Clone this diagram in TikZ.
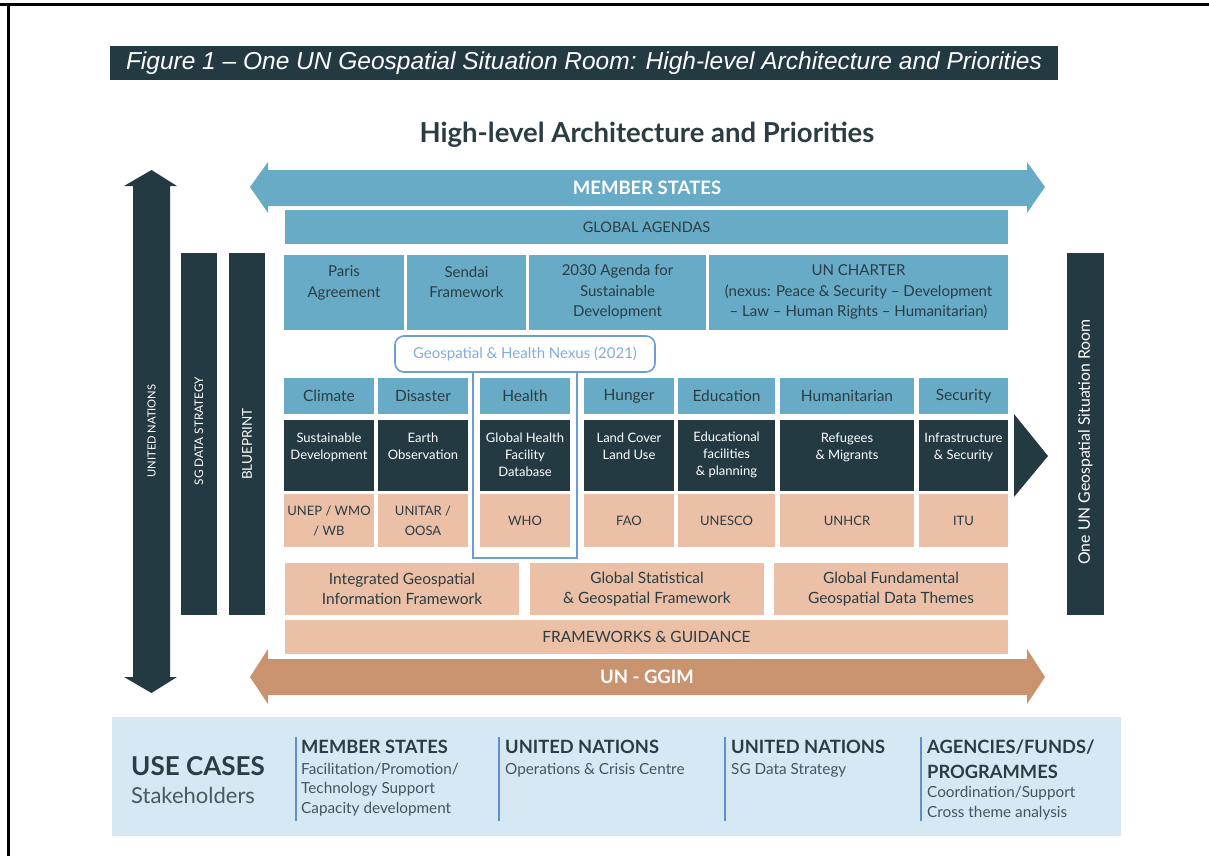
\documentclass[tikz,border=0pt]{standalone}
\usepackage{fontspec}
\setmainfont{Lato}
\newfontfamily\captionfont{Liberation Sans}
\usetikzlibrary{positioning}

\definecolor{unslate}{HTML}{233A42}
\definecolor{unblue}{HTML}{68ABC6}
\definecolor{unpeach}{HTML}{EBC0A7}
\definecolor{unbrown}{HTML}{C9936F}
\definecolor{unink}{HTML}{2B3C43}
\definecolor{nexusblue}{HTML}{6E9DD3}
\definecolor{usebg}{HTML}{D5E8F3}
\definecolor{usebar}{HTML}{5E8FCF}
\definecolor{usetext}{HTML}{46555C}

\begin{document}
\begin{tikzpicture}[x=1pt,y=-1pt]

%-------------------------------------------------
% Styles
%-------------------------------------------------
\tikzset{
  cell/.style={inner sep=0pt, align=center, text=unink},
  agenda/.style={cell, fill=unblue, minimum height=75pt, font=\fontsize{15}{20.5}\selectfont},
  band/.style={cell, fill=unblue, minimum height=34pt, font=\fontsize{14.5}{18}\selectfont},
  theme/.style={cell, fill=unblue, minimum height=36pt, font=\fontsize{15.5}{18}\selectfont},
  topic/.style={cell, fill=unslate, text=white, minimum height=71pt, font=\fontsize{13}{16.8}\selectfont},
  agency/.style={cell, fill=unpeach, minimum height=53pt, font=\fontsize{13}{20}\selectfont},
  framework/.style={cell, fill=unpeach, minimum height=52pt, minimum width=234pt, font=\fontsize{15.5}{20}\selectfont},
  pillar/.style={fill=unslate},
  pillartext/.style={rotate=90, text=white, inner sep=0pt},
  arrowtext/.style={text=white, font=\bfseries\fontsize{18.5}{22}\selectfont},
  nexus/.style={draw=nexusblue, line width=1.6pt, fill=white, rounded corners=9pt,
    minimum width=260pt, minimum height=36pt, text=nexusblue!85!white,
    font=\fontsize{15}{18}\selectfont},
  usehead/.style={anchor=base west, inner sep=0pt, text=unink, align=left,
    font=\bfseries\fontsize{18.3}{25}\selectfont},
  usebody/.style={anchor=base west, inner sep=0pt, text=usetext, align=left,
    font=\fontsize{15.3}{19.5}\selectfont},
  usesep/.style={draw=usebar, line width=2.5pt}
}

\useasboundingbox (0,0) rectangle (1209,856);

% Page frame (top and left edge only)
\draw[black, line width=3pt] (0,5) -- (1209,5);
\draw[black, line width=3pt] (8.5,5) -- (8.5,856);

%-------------------------------------------------
% Caption and title
%-------------------------------------------------
\fill[unslate] (110,46) rectangle (1058,80);
\node[text=white, font=\captionfont\itshape\fontsize{24.5}{27}\selectfont] (caption) at (584,63)
  {Figure 1 \textendash{} One UN Geospatial Situation Room: High-level Architecture and Priorities};

\node[text=unink, font=\bfseries\fontsize{27.5}{32}\selectfont] (title) at (647,135)
  {High-level Architecture and Priorities};

%-------------------------------------------------
% MEMBER STATES arrow
%-------------------------------------------------
\fill[unblue] (250,187) -- (268,162) -- (268,170) -- (1027,170) -- (1027,162)
  -- (1045,187) -- (1027,213) -- (1027,206) -- (268,206) -- (268,213) -- cycle;
\node[arrowtext] (members) at (647,188) {MEMBER STATES};

%-------------------------------------------------
% Global agendas
%-------------------------------------------------
\node[band, minimum width=723pt] (agendas) at (646.5,227) {GLOBAL AGENDAS};

\node[agenda, minimum width=120pt] (paris) at (344,292) {Paris\\Agreement\\~};
\node[agenda, minimum width=119pt] (sendai) at (466.5,292) {Sendai\\Framework\\~};
\node[agenda, minimum width=177pt] (sdg) at (617.5,292)
  {2030 Agenda for\\Sustainable\\Development};
\node[agenda, minimum width=299pt] (charter) at (858.5,292)
  {UN CHARTER\\(nexus: Peace \& Security -- Development\\-- Law -- Human Rights -- Humanitarian)};

%-------------------------------------------------
% Thematic columns
%-------------------------------------------------
\foreach \n/\cx/\w/\th/\tp/\ag in {
  1/329/90/Climate/{Sustainable\\Development\\~}/{UNEP / WMO\\/ WB},
  2/423/90/Disaster/{Earth\\Observation\\~}/{UNITAR /\\OOSA},
  3/525/90/Health/{Global Health\\Facility\\Database}/{WHO},
  4/629/90/Hunger/{Land Cover\\Land Use\\~}/{FAO},
  5/726.5/97/Education/{Educational\\facilities\\\& planning}/{UNESCO},
  6/847/134/Humanitarian/{Refugees\\\& Migrants\\~}/{UNHCR},
  7/963.5/89/Security/{Infrastructure\\\& Security\\~}/{ITU}} {
  \node[theme, minimum width=\w pt] (theme\n) at (\cx,396) {\th};
  \node[topic, minimum width=\w pt] (topic\n) at (\cx,455) {\tp};
  \node[agency, minimum width=\w pt] (agency\n) at (\cx,520.5) {\ag};
}

% Geospatial & Health Nexus frame round the health column
\node[nexus] (nexusbox) at (525,354) {Geospatial \& Health Nexus (2021)};
\draw[draw=nexusblue, line width=1.6pt]
  ([xshift=-52pt]nexusbox.south) -- ++(0,185) -| ([xshift=52pt]nexusbox.south);

% Arrow head into the situation room
\fill[unslate] (1014,414) -- (1048,456) -- (1014,497) -- cycle;

%-------------------------------------------------
% Frameworks
%-------------------------------------------------
\node[framework] (igif) at (402,589) {Integrated Geospatial\\Information Framework};
\node[framework] (gsgf) at (647,589) {Global Statistical\\\& Geospatial Framework};
\node[framework] (gfgdt) at (891,589) {Global Fundamental\\Geospatial Data Themes};
\node[framework, minimum width=723pt, minimum height=34pt] (guidance) at (646.5,637)
  {FRAMEWORKS \& GUIDANCE};

%-------------------------------------------------
% UN-GGIM arrow
%-------------------------------------------------
\fill[unbrown] (250,677) -- (268,649) -- (268,659) -- (1027,659) -- (1027,649)
  -- (1045,677) -- (1027,704) -- (1027,695) -- (268,695) -- (268,704) -- cycle;
\node[arrowtext] (ggim) at (647,677) {UN - GGIM};

%-------------------------------------------------
% Vertical pillars
%-------------------------------------------------
\fill[unslate] (151.5,170) -- (177,186) -- (170,186) -- (170,677) -- (177,677)
  -- (151.5,693) -- (124,677) -- (133,677) -- (133,186) -- (124,186) -- cycle;
\node[pillartext, font=\fontsize{11.2}{14}\selectfont] (unitednations) at (151.5,431) {UNITED NATIONS};

\fill[unslate] (181,253) rectangle (217,615);
\node[pillartext, font=\fontsize{11.8}{14}\selectfont] (sgdata) at (199,431) {SG DATA STRATEGY};

\fill[unslate] (229,253) rectangle (265,615);
\node[pillartext, font=\fontsize{13.5}{15}\selectfont] (blueprint) at (247,444) {BLUEPRINT};

\fill[unslate] (1067,253) rectangle (1104,615);
\node[pillartext, font=\fontsize{15.8}{18}\selectfont] (sitroom) at (1085.5,442)
  {One UN Geospatial Situation Room};

%-------------------------------------------------
% Use cases
%-------------------------------------------------
\fill[usebg] (112,717) rectangle (1121,836);

\node[anchor=base west, inner sep=0pt, text=unink, font=\bfseries\fontsize{26}{30}\selectfont]
  (usecases) at (131,775) {USE CASES};
\node[anchor=base west, inner sep=0pt, text=unink!85!white, font=\fontsize{22}{26}\selectfont]
  (stake) at (131,803) {Stakeholders};

\draw[usesep] (296,737) -- (296,821);
\draw[usesep] (499,737) -- (499,821);
\draw[usesep] (725,737) -- (725,821);
\draw[usesep] (921,737) -- (921,821);

% (multi-line nodes sit on the baseline of their last line)
\node[usehead] (msHead) at (301,753) {MEMBER STATES};
\node[usebody] (msBody) at (301,813)
  {Facilitation/Promotion/\\Technology Support\\Capacity development};

\node[usehead] (unHead) at (505,753) {UNITED NATIONS};
\node[usebody] (unBody) at (505,774) {Operations \& Crisis Centre};

\node[usehead] (sgHead) at (731,753) {UNITED NATIONS};
\node[usebody] (sgBody) at (731,774) {SG Data Strategy};

\node[usehead] (afpHead) at (927,778) {AGENCIES/FUNDS/\\PROGRAMMES};
\node[usebody] (afpBody) at (927,817) {Coordination/Support\\Cross theme analysis};

\end{tikzpicture}
\end{document}
